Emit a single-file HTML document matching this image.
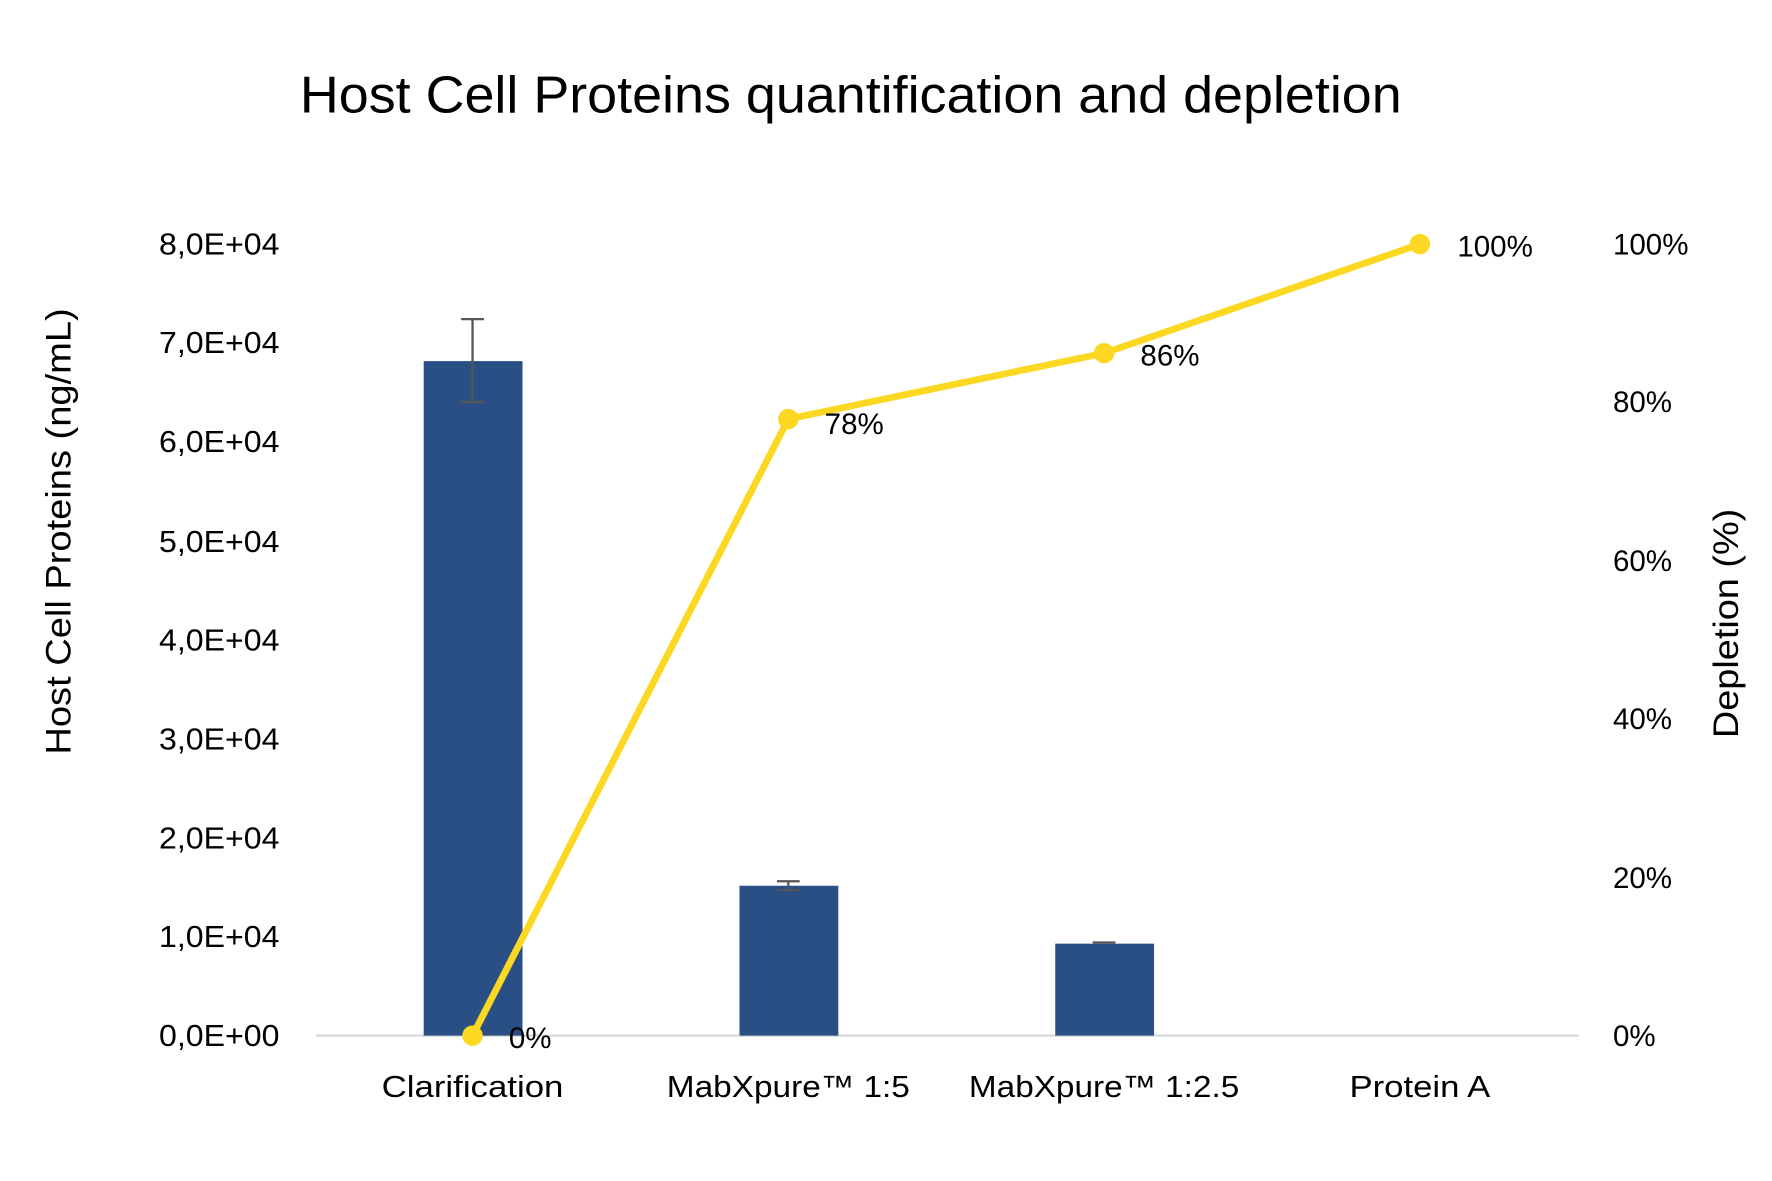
<!DOCTYPE html>
<html><head><style>html,body{margin:0;padding:0;background:#fff}svg{display:block}</style></head>
<body>
<svg width="1772" height="1181" viewBox="0 0 1560 1040" preserveAspectRatio="none" xmlns="http://www.w3.org/2000/svg" font-family="'Liberation Sans', sans-serif">
<rect width="1560" height="1040" fill="#fff"/>
<text x="749" y="99" font-size="46" text-anchor="middle" fill="#000" textLength="970" lengthAdjust="spacingAndGlyphs">Host Cell Proteins quantification and depletion</text>
<g font-size="27" fill="#000" text-anchor="end" lengthAdjust="spacingAndGlyphs">
<text x="246" y="921" textLength="106" lengthAdjust="spacingAndGlyphs">0,0E+00</text>
<text x="246" y="834" textLength="106" lengthAdjust="spacingAndGlyphs">1,0E+04</text>
<text x="246" y="747" textLength="106" lengthAdjust="spacingAndGlyphs">2,0E+04</text>
<text x="246" y="660" textLength="106" lengthAdjust="spacingAndGlyphs">3,0E+04</text>
<text x="246" y="573" textLength="106" lengthAdjust="spacingAndGlyphs">4,0E+04</text>
<text x="246" y="486" textLength="106" lengthAdjust="spacingAndGlyphs">5,0E+04</text>
<text x="246" y="398" textLength="106" lengthAdjust="spacingAndGlyphs">6,0E+04</text>
<text x="246" y="311" textLength="106" lengthAdjust="spacingAndGlyphs">7,0E+04</text>
<text x="246" y="224" textLength="106" lengthAdjust="spacingAndGlyphs">8,0E+04</text>
</g>
<g font-size="26" fill="#000">
<text x="1420" y="921">0%</text>
<text x="1420" y="782">20%</text>
<text x="1420" y="642">40%</text>
<text x="1420" y="503">60%</text>
<text x="1420" y="363">80%</text>
<text x="1420" y="224">100%</text>
</g>
<text transform="translate(62,468) rotate(-90)" font-size="31" text-anchor="middle" textLength="393" lengthAdjust="spacingAndGlyphs">Host Cell Proteins (ng/mL)</text>
<text transform="translate(1530,549) rotate(-90)" font-size="31" text-anchor="middle" textLength="202" lengthAdjust="spacingAndGlyphs">Depletion (%)</text>
<line x1="278" y1="912" x2="1390" y2="912" stroke="#d9d9d9" stroke-width="2"/>
<g fill="#294f84">
<rect x="373" y="318" width="87" height="594"/>
<rect x="651" y="780" width="87" height="132"/>
<rect x="929" y="831" width="87" height="81"/>
</g>
<g stroke="#555" stroke-width="2">
<line x1="416" y1="281" x2="416" y2="354"/><line x1="406" y1="281" x2="426" y2="281"/><line x1="406" y1="354" x2="426" y2="354"/>
<line x1="694" y1="776" x2="694" y2="784"/><line x1="684" y1="776" x2="704" y2="776"/><line x1="684" y1="784" x2="704" y2="784"/>
<line x1="962" y1="830" x2="982" y2="830"/>
</g>
<polyline points="416,912 694,369 972,311 1250,215" fill="none" stroke="#fdd822" stroke-width="6" stroke-linejoin="round"/>
<g fill="#fdd822">
<circle cx="416" cy="912" r="9"/><circle cx="694" cy="369" r="9"/><circle cx="972" cy="311" r="9"/><circle cx="1250" cy="215" r="9"/>
</g>
<g font-size="26" fill="#000">
<text x="448" y="923">0%</text>
<text x="726" y="382">78%</text>
<text x="1004" y="322">86%</text>
<text x="1283" y="226">100%</text>
</g>
<g font-size="27" fill="#000" text-anchor="middle">
<text x="416" y="966" textLength="160" lengthAdjust="spacingAndGlyphs">Clarification</text>
<text x="694" y="966" textLength="214" lengthAdjust="spacingAndGlyphs">MabXpure™ 1:5</text>
<text x="972" y="966" textLength="238" lengthAdjust="spacingAndGlyphs">MabXpure™ 1:2.5</text>
<text x="1250" y="966" textLength="124" lengthAdjust="spacingAndGlyphs">Protein A</text>
</g>
</svg>
</body></html>
